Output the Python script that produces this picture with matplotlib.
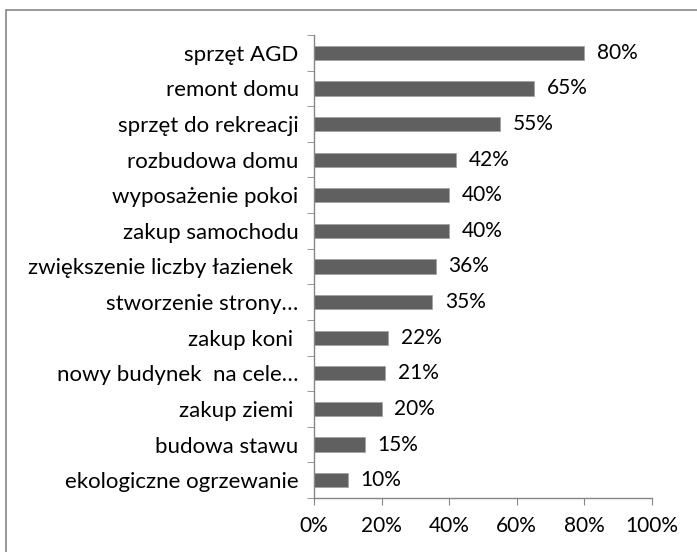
import matplotlib
matplotlib.use('Agg')
import matplotlib.pyplot as plt
from matplotlib.ticker import FixedLocator
import numpy as np

categories = ['sprzęt AGD', 'remont domu', 'sprzęt do rekreacji', 'rozbudowa domu',
              'wyposażenie pokoi', 'zakup samochodu', 'zwiększenie liczby łazienek ',
              'stworzenie strony…', 'zakup koni ', 'nowy budynek  na cele…',
              'zakup ziemi ', 'budowa stawu', 'ekologiczne ogrzewanie']
values = [80, 65, 55, 42, 40, 40, 36, 35, 22, 21, 20, 15, 10]
xticks = [0, 20, 40, 60, 80, 100]

plt.rcParams['font.family'] = ['Lato', 'DejaVu Sans']

fig = plt.figure(figsize=(6.97, 5.52), dpi=100)
# outer chart border (right and bottom edges fall outside the picture)
fig.patches.append(plt.Rectangle((6 / 697, -0.1), 1.0, 0.1 + 542 / 552,
                                 transform=fig.transFigure, fill=False,
                                 edgecolor='#868686', linewidth=1.2))

ax = fig.add_axes([314 / 697, 54 / 552, 338 / 697, 463 / 552])
n = len(categories)
y = np.arange(n)[::-1]
ax.barh(y, values, height=0.4, color='#606060', edgecolor='#a0a0a0', linewidth=0.5)
for yi, v in zip(y, values):
    ax.text(v + 3.8, yi, f'{v}%', va='center', ha='left', fontsize=15, color='#000000')

ax.set_xlim(0, 100)
ax.set_ylim(-0.5, n - 0.5)
ax.set_xticks(xticks)
ax.set_xticklabels([f'{t}%' for t in xticks], fontsize=15)
ax.set_yticks(y)
ax.set_yticklabels(categories, fontsize=16)
ax.yaxis.set_minor_locator(FixedLocator(np.arange(n + 1) - 0.5))
ax.tick_params(axis='y', which='major', length=0, pad=11)
ax.tick_params(axis='y', which='minor', length=5, color='#868686', direction='out')
ax.tick_params(axis='x', length=5, color='#868686', direction='out', pad=8)
for s in ['top', 'right']:
    ax.spines[s].set_visible(False)
for s in ['left', 'bottom']:
    ax.spines[s].set_color('#868686')
    ax.spines[s].set_linewidth(1)

fig.savefig('out.png', dpi=100)
